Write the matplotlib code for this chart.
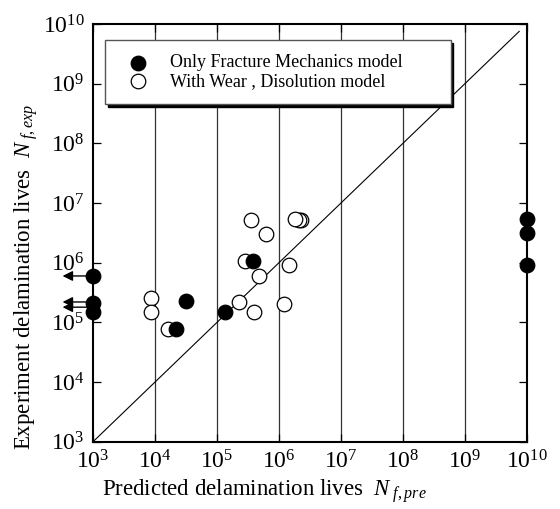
import matplotlib
matplotlib.use("Agg")
import matplotlib.pyplot as plt
import numpy as np

plt.rcParams['font.family'] = ['Liberation Serif', 'DejaVu Serif']
plt.rcParams['mathtext.fontset'] = 'custom'
plt.rcParams['mathtext.rm'] = 'Liberation Serif'
plt.rcParams['mathtext.it'] = 'Liberation Serif:italic'

# predicted / experimental lives, fracture mechanics only
fm_pred = [1e3, 1e3, 1e3, 3.2e4, 2.2e4, 1.35e5, 3.8e5, 1e10, 1e10, 1e10]
fm_exp = [6.0e5, 2.1e5, 1.5e5, 2.3e5, 7.8e4, 1.5e5, 1.05e6, 5.3e6, 3.2e6, 9.2e5]

# with wear and dissolution
wd_pred = [8.7e3, 8.7e3, 1.6e4, 2.3e5, 2.8e5, 3.6e5, 6.2e5, 4.8e5, 4.0e5,
           1.2e6, 1.45e6, 2.3e6, 2.1e6, 1.8e6]
wd_exp = [2.6e5, 1.5e5, 7.8e4, 2.2e5, 1.05e6, 5.2e6, 3.0e6, 6.0e5, 1.5e5,
          2.0e5, 9.2e5, 5.2e6, 5.2e6, 5.5e6]

# run-outs below the plotted range (arrows on the left)
arrow_exp = [6.0e5, 2.2e5, 1.8e5]

fig = plt.figure(figsize=(5.6, 5.09), dpi=100)
ax = fig.add_axes([0.166, 0.132, 0.775, 0.821])

ax.set_xscale('log')
ax.set_yscale('log')
ax.set_xlim(1e3, 1e10)
ax.set_ylim(1e3, 1e10)

for xv in [1e4, 1e5, 1e6, 1e7, 1e8, 1e9]:
    ax.axvline(xv, color='#333333', lw=0.9, zorder=1)

ax.plot([1e3, 7.5e9], [1e3, 7.5e9], color='k', lw=0.8, zorder=2)

ax.scatter(wd_pred, wd_exp, s=110, facecolors='white', edgecolors='k',
           linewidths=0.9, zorder=3, clip_on=False,
           label='With Wear , Disolution model')
ax.scatter(fm_pred, fm_exp, s=110, facecolors='black', edgecolors='k',
           linewidths=0.9, zorder=4, clip_on=False,
           label='Only Fracture Mechanics model')

for yv in arrow_exp:
    ax.annotate('', xy=(-0.07, yv), xycoords=('axes fraction', 'data'),
                xytext=(0.0, yv), textcoords=('axes fraction', 'data'),
                arrowprops=dict(arrowstyle='-|>', color='k', lw=1.0,
                                mutation_scale=15, shrinkA=0, shrinkB=0),
                annotation_clip=False, zorder=5)

ax.set_xticks(10.0 ** np.arange(3, 11))
ax.set_yticks(10.0 ** np.arange(3, 11))
ax.xaxis.set_minor_locator(matplotlib.ticker.LogLocator(base=10, subs=np.arange(2, 10)))
ax.yaxis.set_minor_locator(matplotlib.ticker.NullLocator())
ax.tick_params(which='both', direction='in', top=True, right=True,
               length=6, width=0.9, labelsize=17, pad=6)
for sp in ax.spines.values():
    sp.set_linewidth(1.5)

# axis titles sit off-centre, so place them on the figure directly
fig.text(0.182, 0.026, r'Predicted delamination lives  $N_{\ f,pre}$',
         fontsize=16.5, ha='left', va='baseline')
fig.text(0.046, 0.116, r'Experiment delamination lives  $N_{\ f,exp}$',
         fontsize=16.5, rotation=90, ha='center', va='bottom')

handles, labels = ax.get_legend_handles_labels()
leg = ax.legend(handles[::-1], labels[::-1], loc='upper left',
                bbox_to_anchor=(0.028, 0.962 - 0.156, 0.796, 0.156),
                mode='expand', borderaxespad=0, fontsize=13,
                fancybox=False, edgecolor='#555555', framealpha=1,
                shadow={'color': 'black', 'alpha': 1},
                handletextpad=0.8, labelspacing=0.1, borderpad=0.8)
leg.get_frame().set_linewidth(1.0)
leg.set_zorder(6)

fig.savefig('out.png', dpi=100)
